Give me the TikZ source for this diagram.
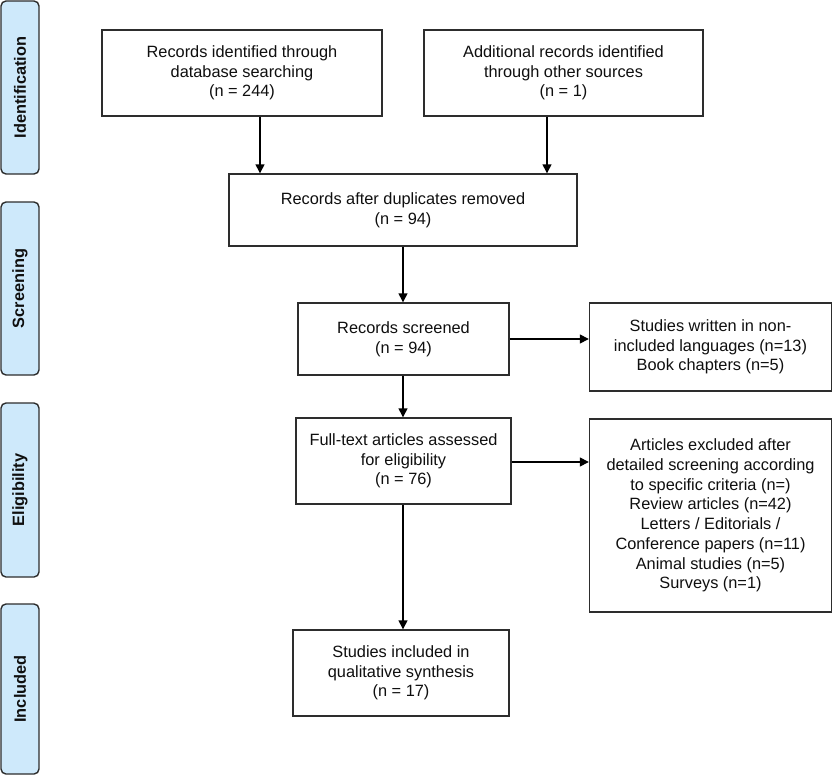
\documentclass[tikz,border=0pt]{standalone}
\usepackage{fontspec}
\setmainfont{Liberation Sans}
\usetikzlibrary{arrows.meta}
\definecolor{phasefill}{RGB}{206,233,251}
\definecolor{boxline}{RGB}{45,45,45}
\definecolor{txt}{RGB}{15,15,15}
\tikzset{
  flowbox/.style={draw=boxline, line width=1.4bp, fill=white, align=center, inner sep=0pt,
    text=txt, font=\fontsize{16.4}{19.8}\selectfont},
  phase/.style={draw=boxline, line width=1.4bp, fill=phasefill, rounded corners=5bp, inner sep=0pt,
    minimum width=38bp},
  phasetext/.style={rotate=90, text=txt, font=\bfseries\fontsize{16.4}{18}\selectfont},
  arr/.style={line width=1.4bp, draw=black, -{Triangle[length=9bp,width=9bp]}}
}
\begin{document}
\begin{tikzpicture}[x=1bp,y=-1bp]
\useasboundingbox (0,0) rectangle (833,778);
% phase labels
\node[phase, minimum height=173bp] (p1) at (20,87.5) {};
\node[phasetext] (t1) at (p1.center) {Identification};
\node[phase, minimum height=173bp] (p2) at (20,288.5) {};
\node[phasetext] (t2) at (p2.center) {Screening};
\node[phase, minimum height=174bp] (p3) at (20,490) {};
\node[phasetext] (t3) at (p3.center) {Eligibility};
\node[phase, minimum height=170bp] (p4) at (20,689) {};
\node[phasetext] (t4) at (p4.center) {Included};
% boxes
\node[flowbox, minimum width=280bp, minimum height=86bp] (A) at (242,73)
  {Records identified through\\database searching\\(n = 244)};
\node[flowbox, minimum width=279bp, minimum height=86bp] (B) at (563.5,73)
  {Additional records identified\\through other sources\\(n = 1)};
\node[flowbox, minimum width=348bp, minimum height=72bp] (C) at (403,210)
  {Records after duplicates removed\\(n = 94)};
\node[flowbox, minimum width=211bp, minimum height=72bp] (D) at (403.5,339)
  {Records screened\\(n = 94)};
\node[flowbox, minimum width=242bp, minimum height=88bp] (E) at (710.5,347)
  {Studies written in non-\\included languages (n=13)\\Book chapters (n=5)};
\node[flowbox, minimum width=215bp, minimum height=86bp] (F) at (403.5,461)
  {Full-text articles assessed\\for eligibility\\(n = 76)};
\node[flowbox, minimum width=242bp, minimum height=193bp] (G) at (710.5,515.5)
  {Articles excluded after\\detailed screening according\\to specific criteria (n=)\\Review articles (n=42)\\Letters / Editorials /\\Conference papers (n=11)\\Animal studies (n=5)\\Surveys (n=1)};
\node[flowbox, minimum width=216bp, minimum height=86bp] (H) at (401,673)
  {Studies included in\\qualitative synthesis\\(n = 17)};
% connector positions
\coordinate (xa) at (260,0);
\coordinate (xb) at (547,0);
\coordinate (xc) at (403,0);
\coordinate (yd) at (0,339);
\coordinate (yf) at (0,462);
% connectors
\draw[arr] (A.south -| xa) -- (C.north -| xa);
\draw[arr] (B.south -| xb) -- (C.north -| xb);
\draw[arr] (C.south -| xc) -- (D.north -| xc);
\draw[arr] (D.east |- yd) -- (E.west |- yd);
\draw[arr] (D.south -| xc) -- (F.north -| xc);
\draw[arr] (F.east |- yf) -- (G.west |- yf);
\draw[arr] (F.south -| xc) -- (H.north -| xc);
\end{tikzpicture}
\end{document}
